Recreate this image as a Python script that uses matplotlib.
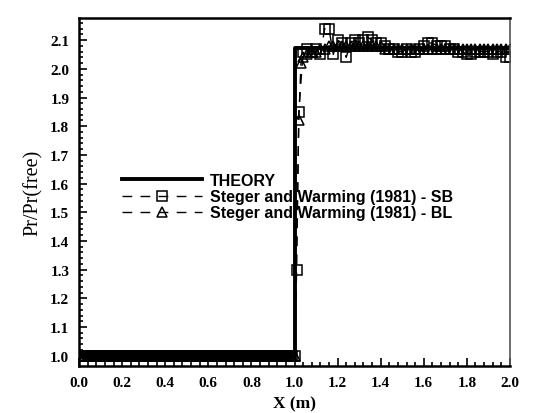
import matplotlib
matplotlib.use("Agg")
import matplotlib.pyplot as plt
from matplotlib.ticker import MultipleLocator

# exact shock solution
theory_x = [0.0, 1.0, 1.0, 2.0]
theory_y = [1.0, 1.0, 2.072, 2.072]

# upstream mesh points (undisturbed flow)
x_up = [round(0.01 * i, 2) for i in range(101)]
sb_up = [1.0] * len(x_up)
bl_up = [1.0] * len(x_up)

# downstream points, Steger and Warming - SB
sb_x = [1.01, 1.02, 1.04, 1.06, 1.08, 1.10, 1.12, 1.14, 1.16, 1.18, 1.20,
        1.22, 1.24, 1.26, 1.28, 1.30, 1.32, 1.34, 1.36, 1.38, 1.40, 1.42,
        1.44, 1.46, 1.48, 1.50, 1.52, 1.54, 1.56, 1.58, 1.60, 1.62, 1.64,
        1.66, 1.68, 1.70, 1.72, 1.74, 1.76, 1.78, 1.80, 1.82, 1.84, 1.86,
        1.88, 1.90, 1.92, 1.94, 1.96, 1.98, 2.00]
sb_y = [1.30, 1.85, 2.06, 2.07, 2.06, 2.07, 2.05, 2.14, 2.14, 2.05, 2.10,
        2.09, 2.04, 2.09, 2.10, 2.09, 2.10, 2.11, 2.10, 2.09, 2.09, 2.08,
        2.07, 2.07, 2.06, 2.06, 2.07, 2.06, 2.06, 2.07, 2.08, 2.09, 2.09,
        2.08, 2.08, 2.08, 2.07, 2.07, 2.06, 2.06, 2.05, 2.05, 2.06, 2.06,
        2.06, 2.06, 2.05, 2.06, 2.06, 2.04, 2.04]

# downstream points, Steger and Warming - BL
bl_x = [1.02, 1.03, 1.04, 1.06, 1.08, 1.10, 1.12, 1.14, 1.16, 1.18, 1.20,
        1.22, 1.24, 1.26, 1.28, 1.30, 1.32, 1.34, 1.36, 1.38, 1.40, 1.42,
        1.44, 1.46, 1.48, 1.50, 1.52, 1.54, 1.56, 1.58, 1.60, 1.62, 1.64,
        1.66, 1.68, 1.70, 1.72, 1.74, 1.76, 1.78, 1.80, 1.82, 1.84, 1.86,
        1.88, 1.90, 1.92, 1.94, 1.96, 1.98, 2.00]
bl_y = [1.82, 2.02, 2.04, 2.05, 2.06, 2.06, 2.07, 2.07, 2.08, 2.08, 2.08,
        2.08, 2.08, 2.08, 2.08, 2.08, 2.08, 2.08, 2.08, 2.08, 2.08, 2.07,
        2.07, 2.07, 2.07, 2.07, 2.07, 2.07, 2.07, 2.07, 2.07, 2.07, 2.07,
        2.07, 2.07, 2.07, 2.07, 2.07, 2.07, 2.07, 2.07, 2.07, 2.07, 2.07,
        2.07, 2.07, 2.07, 2.07, 2.07, 2.07, 2.07]

fig = plt.figure(figsize=(5.34, 4.14), dpi=100)
ax = fig.add_axes([0.148, 0.1135, 0.807, 0.8405])

ax.plot(x_up + sb_x, sb_up + sb_y, ls=(0, (7, 6)), color='black', lw=1.0,
        marker='s', ms=6.5, mfc='none', mew=1.1,
        label='Steger and Warming (1981) - SB')
ax.plot(x_up + bl_x, bl_up + bl_y, ls=(0, (7, 6)), color='black', lw=1.0,
        marker='^', ms=6.5, mfc='none', mew=1.1,
        label='Steger and Warming (1981) - BL')
ax.plot(theory_x, theory_y, color='black', lw=2.8, label='THEORY')

ax.set_xlim(0.0, 2.0)
ax.set_ylim(0.964, 2.177)
ax.xaxis.set_major_locator(MultipleLocator(0.2))
ax.xaxis.set_minor_locator(MultipleLocator(0.04))
ax.yaxis.set_major_locator(MultipleLocator(0.1))
ax.yaxis.set_minor_locator(MultipleLocator(0.02))
ax.tick_params(which='both', direction='in', top=False, right=False,
               width=1.2, labelsize=11, pad=7)
ax.tick_params(which='major', length=6)
ax.tick_params(which='minor', length=3)
ax.xaxis.set_major_formatter(plt.FuncFormatter(lambda v, p: f'{v:.1f}'))
ax.yaxis.set_major_formatter(plt.FuncFormatter(lambda v, p: f'{v:.1f}'))
for lab in ax.get_xticklabels() + ax.get_yticklabels():
    lab.set_fontfamily('Liberation Serif')
    lab.set_fontweight('bold')

for side in ['left', 'bottom', 'top']:
    ax.spines[side].set_linewidth(1.8)
ax.spines['right'].set_linewidth(1.2)
ax.spines['right'].set_color('#555555')

ax.set_xlabel('X (m)', fontfamily='Liberation Serif', fontweight='bold',
              fontsize=12.5, labelpad=5)
ax.set_ylabel('Pr/Pr(free)', fontfamily='Liberation Serif', fontsize=14.5,
              labelpad=5)

handles, labels = ax.get_legend_handles_labels()
order = [2, 0, 1]
ax.legend([handles[i] for i in order], [labels[i] for i in order],
          loc='upper left', bbox_to_anchor=(0.082, 0.578), frameon=False,
          handlelength=5.0, handletextpad=0.5, labelspacing=0.08,
          borderpad=0, prop={'family': 'Liberation Sans', 'weight': 'bold',
                             'size': 11.5})

fig.savefig('out.png', dpi=100)
